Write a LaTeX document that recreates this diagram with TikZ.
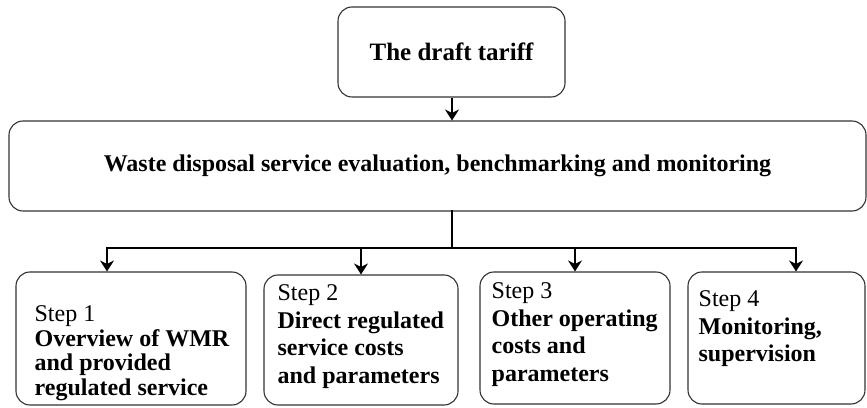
\documentclass[tikz,border=0pt]{standalone}
\usepackage{fontspec}
\setmainfont{Liberation Serif}
\usetikzlibrary{arrows.meta,calc}
\definecolor{boxline}{HTML}{333333}

\begin{document}
\begin{tikzpicture}[x=1pt,y=1pt,
  box/.style={draw=boxline, line width=1.1pt, rounded corners=14pt, inner sep=0pt},
  flow/.style={line width=2.4pt, -{Stealth[length=11pt,width=14pt,inset=3.5pt]}},
  link/.style={line width=2.4pt, line cap=rect},
  steptext/.style={anchor=north west, inner sep=0pt, align=left, font=\fontsize{24}{#1}\selectfont},
  steptext/.default=27.5]
  \useasboundingbox (0,0) rectangle (867,407);
  % top of the chart
  \node[box, minimum width=227, minimum height=90, font=\fontsize{25}{25}\selectfont\bfseries] (tariff) at (451.5,355) {The draft tariff};
  \node[box, minimum width=857, minimum height=90, font=\fontsize{24}{24}\selectfont\bfseries] (evalbox) at (437.5,241) {Waste disposal service evaluation, benchmarking and monitoring};
  % the four steps
  \node[box, minimum width=230, minimum height=133] (s1) at (131,68.5) {};
  \node[box, minimum width=194, minimum height=130] (s2) at (361,67) {};
  \node[box, minimum width=190, minimum height=132] (s3) at (575,69) {};
  \node[box, minimum width=177, minimum height=132] (s4) at (776.5,69) {};
  \node[steptext=24.5] (t1) at ($(s1.north west)+(19,-34)$) {Step 1\\ \textbf{Overview of WMR}\\ \textbf{and provided}\\ \textbf{regulated service}};
  \node[steptext] (t2) at ($(s2.north west)+(14,-10)$) {Step 2\\ \textbf{Direct regulated}\\ \textbf{service costs}\\ \textbf{and parameters}};
  \node[steptext] (t3) at ($(s3.north west)+(12,-11)$) {Step 3\\ \textbf{Other operating}\\ \textbf{costs and}\\ \textbf{parameters}};
  \node[steptext] (t4) at ($(s4.north west)+(11,-19)$) {Step 4\\ \textbf{Monitoring,}\\ \textbf{supervision}};
  % connectors
  \coordinate (hub) at (452,159);
  \coordinate (busL) at (107,159);
  \coordinate (busR) at (796,159);
  \draw[flow] (hub |- tariff.south) -- (hub |- evalbox.north);
  \draw[link] (hub |- evalbox.south) -- (hub);
  \draw[link] (busL) -- (busR);
  \draw[flow] (busL) -- (busL |- s1.north);
  \draw[flow] (s2.north |- busL) -- (s2.north);
  \draw[flow] (s3.north |- busL) -- (s3.north);
  \draw[flow] (busR) -- (busR |- s4.north);
\end{tikzpicture}
\end{document}
